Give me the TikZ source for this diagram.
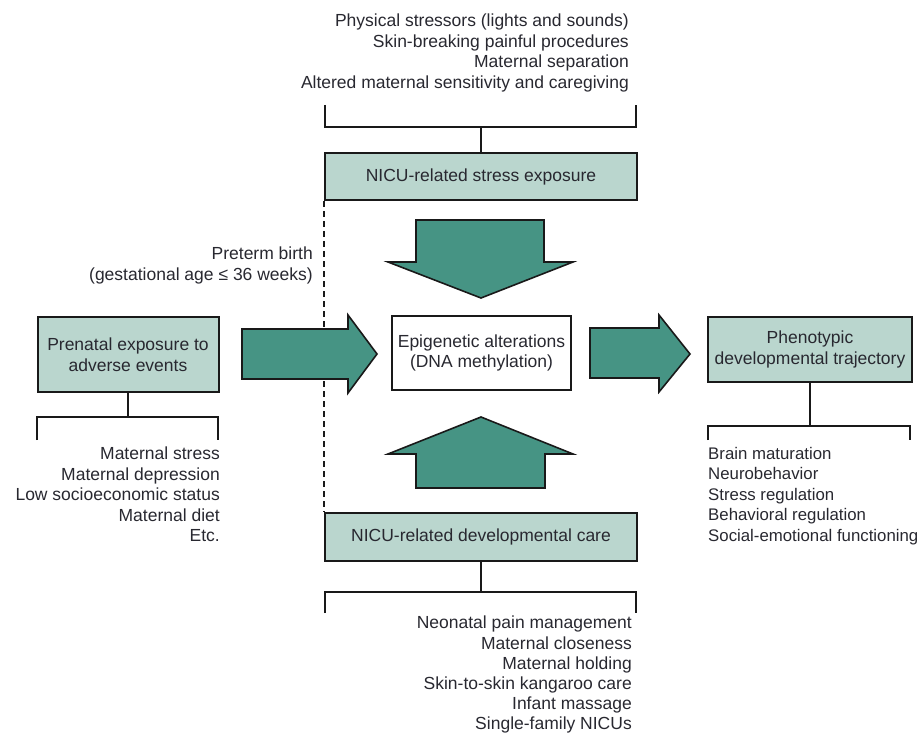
\documentclass[tikz,border=0pt]{standalone}
\usepackage{fontspec}
\setmainfont{Liberation Sans}
\usepackage{xcolor}
\usetikzlibrary{shapes,arrows,positioning,calc}
\definecolor{boxfill}{RGB}{186,214,206}
\definecolor{arrowfill}{RGB}{70,148,132}
\definecolor{linegray}{RGB}{25,25,25}
\definecolor{textgray}{RGB}{40,40,48}

\begin{document}
\begin{tikzpicture}[x=1pt, y=-1pt, font=\fontsize{17.5}{20.5}\selectfont, text=textgray,
    box/.style={draw=linegray, line width=2pt, rectangle, fill=boxfill, align=center, inner sep=0pt},
    bigarrow/.style={draw=linegray, line width=1.6pt, fill=arrowfill, line join=miter},
    bracket/.style={draw=linegray, line width=2.2pt},
    list/.style={inner sep=0pt}]
    \useasboundingbox (0,0) rectangle (920,735);

    % NICU stress exposure
    \node [box, minimum width=312pt, minimum height=47pt] (stress) at (481,176.5) {NICU-related stress exposure};
    \node [list, anchor=north east, align=right] (stresslist) at (629,14) {Physical stressors (lights and sounds)\\Skin-breaking painful procedures\\Maternal separation\\Altered maternal sensitivity and caregiving};
    \draw [bracket] (325,105) |- (636,127) -- (636,105);
    \draw [bracket] (stress.north) -- ++(0,-26);

    % NICU developmental care
    \node [box, minimum width=312pt, minimum height=48pt] (care) at (481,537) {NICU-related developmental care};
    \node [list, anchor=north east, align=right, font=\fontsize{17.5}{20.2}\selectfont] (carelist) at (632,616) {Neonatal pain management\\Maternal closeness\\Maternal holding\\Skin-to-skin kangaroo care\\Infant massage\\Single-family NICUs};
    \draw [bracket] (care.south) -- ++(0,31);
    \draw [bracket] (325,613) |- (636,592) -- (636,613);

    % Preterm birth line
    \draw [linegray, line width=2pt, dash pattern=on 6pt off 4pt] (stress.south west) -- (care.north west);
    \node [list, anchor=north east, align=right] (preterm) at (313,247) {Preterm birth\\(gestational age ≤ 36 weeks)};

    % Prenatal exposure
    \node [box, minimum width=181pt, minimum height=75pt] (prenatal) at (128,354.5) {Prenatal exposure to\\adverse events};
    \draw [bracket] (prenatal.south) -- ++(0,25);
    \draw [bracket] (37,440) |- (218,417) -- (218,440);
    \node [list, anchor=north east, align=right] (prenatallist) at (220,447) {Maternal stress\\Maternal depression\\Low socioeconomic status\hspace{5pt}\\Maternal diet\\Etc.};

    % Epigenetic alterations
    \node [box, fill=white, minimum width=179pt, minimum height=74pt] (epi) at (481.5,353) {Epigenetic alterations\\(DNA methylation)};

    % Phenotypic trajectory
    \node [box, minimum width=204pt, minimum height=65pt] (pheno) at (810,349.5) {Phenotypic\\developmental trajectory};
    \draw [bracket] (pheno.south) -- ++(0,44);
    \draw [bracket] (708,440) |- (910,426) -- (910,440);
    \node [list, anchor=north west, align=left, font=\fontsize{16.8}{20.5}\selectfont] (phenolist) at (708,447) {Brain maturation\\Neurobehavior\\Stress regulation\\Behavioral regulation\\Social-emotional functioning};

    % Big arrows
    \draw [bigarrow] (242,329) -- (348,329) -- (348,315) -- (377,354) -- (348,393) -- (348,379) -- (242,379) -- cycle;
    \draw [bigarrow] (590,328) -- (659,328) -- (659,315) -- (690,354) -- (659,392) -- (659,378) -- (590,378) -- cycle;
    \draw [bigarrow] (416,220) -- (544,220) -- (544,262) -- (573,262) -- (481,298) -- (388,262) -- (416,262) -- cycle;
    \draw [bigarrow] (416,488) -- (416,454) -- (388,454) -- (481,417) -- (573,454) -- (545,454) -- (545,488) -- cycle;
\end{tikzpicture}
\end{document}
